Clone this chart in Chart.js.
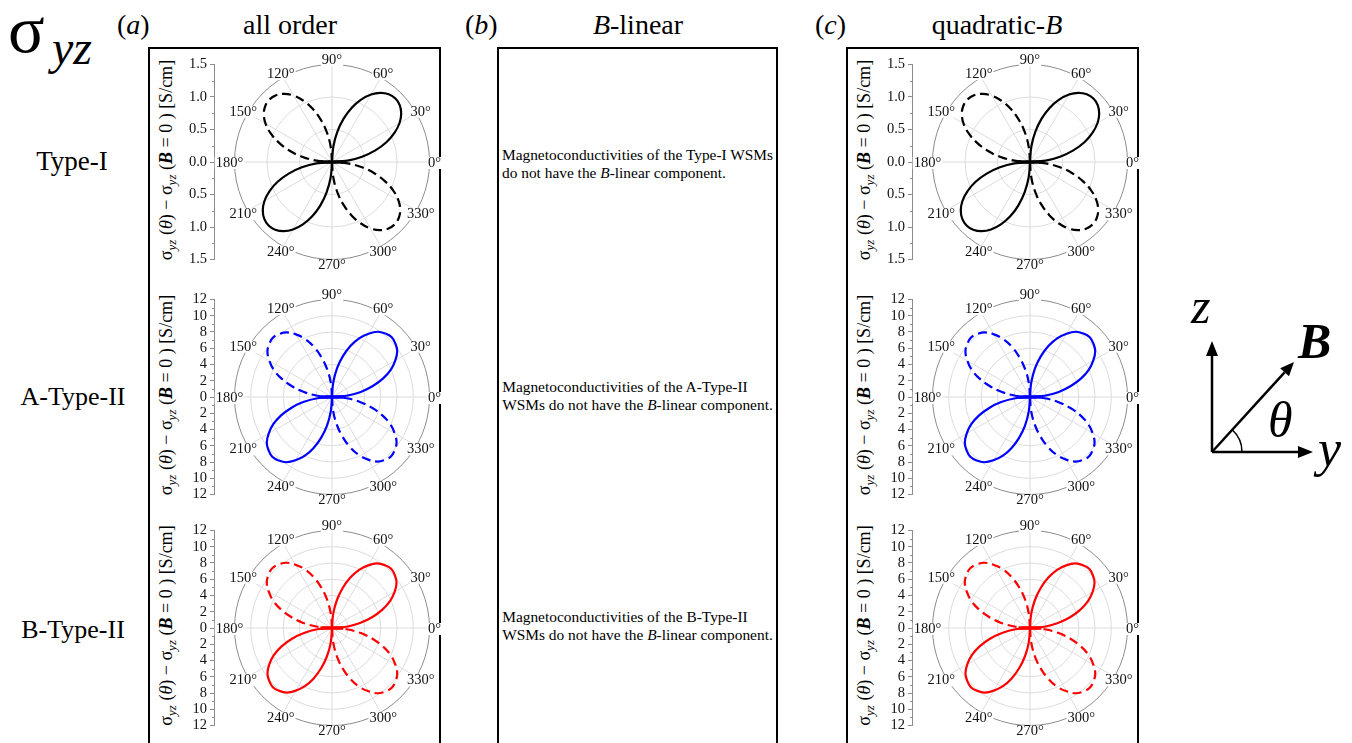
<!DOCTYPE html>
<html>
<head>
<meta charset="utf-8">
<script src="https://cdn.jsdelivr.net/npm/chart.js@4.4.0/dist/chart.umd.min.js"></script>
<style>
  body { margin: 0; background: #fff; }
  #page { position: relative; width: 1352px; height: 743px; overflow: hidden;
          font-family: "Liberation Serif", "Times New Roman", serif; color: #000; }
  #page > svg { position: absolute; left: 0; top: 0; }
  canvas { position: absolute; }
  .note { position: absolute; display: flex; justify-content: center; align-items: center;
          font-size: 15.4px; line-height: 18px; }
</style>
</head>
<body>
<div id="page">
  <svg id="deco" width="1352" height="743" font-family="Liberation Serif, Times New Roman, serif">
    <!-- panel frames -->
    <rect x="149" y="48" width="291" height="720" fill="none" stroke="#000" stroke-width="2"/>
    <rect x="498" y="48" width="279" height="720" fill="none" stroke="#000" stroke-width="2"/>
    <rect x="847" y="48" width="291" height="720" fill="none" stroke="#000" stroke-width="2"/>

    <!-- corner symbol -->
    <text x="8" y="52" font-size="68">σ</text>
    <text x="52" y="64" font-size="48" font-style="italic">yz</text>

    <!-- column headers -->
    <text x="117" y="34" font-size="28">(<tspan font-style="italic">a</tspan>)</text>
    <text x="290" y="34" font-size="28" text-anchor="middle">all order</text>
    <text x="465" y="34" font-size="28">(<tspan font-style="italic">b</tspan>)</text>
    <text x="638" y="34" font-size="28" text-anchor="middle"><tspan font-style="italic">B</tspan>-linear</text>
    <text x="815" y="34" font-size="28">(<tspan font-style="italic">c</tspan>)</text>
    <text x="997" y="34" font-size="28" text-anchor="middle">quadratic-<tspan font-style="italic">B</tspan></text>

    <!-- row labels -->
    <text x="72" y="170" font-size="27" text-anchor="middle">Type-I</text>
    <text x="73" y="405" font-size="26" text-anchor="middle">A-Type-II</text>
    <text x="73" y="638" font-size="26" text-anchor="middle">B-Type-II</text>

    <!-- axes sketch -->
    <g stroke="#000" stroke-width="2.5" fill="none">
      <line x1="1212" y1="452" x2="1212" y2="354"/>
      <line x1="1212" y1="452" x2="1299" y2="452"/>
      <line x1="1212" y1="452" x2="1284.6" y2="372.3"/>
      <path d="M 1242 452 A 30 30 0 0 0 1232.2 429.8" stroke-width="1.5"/>
    </g>
    <g fill="#000">
      <polygon points="1212,341 1206,356 1218,356"/>
      <polygon points="1313,452 1298,446 1298,458"/>
      <polygon points="1294,362 1289,376.3 1280.2,368.3"/>
    </g>
    <text x="1191" y="323" font-size="50" font-style="italic">z</text>
    <text x="1298" y="358" font-size="50" font-style="italic" font-weight="bold">B</text>
    <text x="1268" y="437" font-size="50" font-style="italic">θ</text>
    <text x="1318" y="466" font-size="52" font-style="italic">y</text>
    <g id="titles"></g>
  </svg>

  <div class="note" style="left:498px;top:146px;width:279px;height:36px">
    <div>Magnetoconductivities of the Type-I WSMs<br>do not have the <i>B</i>-linear component.</div>
  </div>
  <div class="note" style="left:498px;top:378px;width:279px;height:36px">
    <div>Magnetoconductivities of the A-Type-II<br>WSMs do not have the <i>B</i>-linear component.</div>
  </div>
  <div class="note" style="left:498px;top:608px;width:279px;height:36px">
    <div>Magnetoconductivities of the B-Type-II<br>WSMs do not have the <i>B</i>-linear component.</div>
  </div>
</div>

<script>
// ── DATA (one lobe per quadrant, every 5°) ─────────────────────────────
const THETA = [0, 5, 10, 15, 20, 25, 30, 35, 40, 45, 50, 55, 60, 65, 70, 75, 80, 85, 90];
const ANGLE_LABELS = [0, 30, 60, 90, 120, 150, 180, 210, 240, 270, 300, 330];

// Type-I, S/cm
const TYPE_I_POS = [0, 0.24, 0.47, 0.69, 0.89, 1.06, 1.20, 1.30, 1.36, 1.38, 1.36, 1.30, 1.20, 1.06, 0.89, 0.69, 0.47, 0.24, 0];
const TYPE_I_NEG = [0, 0.24, 0.47, 0.68, 0.87, 1.04, 1.18, 1.28, 1.34, 1.36, 1.34, 1.28, 1.18, 1.04, 0.87, 0.68, 0.47, 0.24, 0];
const TYPE_I_BAR = [-0.17, 0.17];
const TICKS_I    = [-1.5, -1.0, -0.5, 0, 0.5, 1.0, 1.5];

// A-Type-II, S/cm
const A_TYPE_POS = [0, 1.8, 3.6, 5.2, 6.7, 8.0, 9.0, 9.8, 10.2, 10.4, 10.2, 9.8, 9.0, 8.0, 6.7, 5.2, 3.6, 1.8, 0];
const A_TYPE_NEG = [0, 1.8, 3.5, 5.1, 6.6, 7.9, 8.9, 9.7, 10.1, 10.3, 10.1, 9.7, 8.9, 7.9, 6.6, 5.1, 3.5, 1.8, 0];
const A_TYPE_BAR = [-1.4, 1.4];

// B-Type-II, S/cm
const B_TYPE_POS = [0, 1.8, 3.5, 5.1, 6.6, 7.9, 8.9, 9.7, 10.1, 10.3, 10.1, 9.7, 8.9, 7.9, 6.6, 5.1, 3.5, 1.8, 0];
const B_TYPE_NEG = [0, 1.8, 3.6, 5.2, 6.7, 8.0, 9.0, 9.8, 10.2, 10.4, 10.2, 9.8, 9.0, 8.0, 6.7, 5.2, 3.6, 1.8, 0];
const B_TYPE_BAR = [-1.4, 1.4];
const TICKS_II   = [-12, -10, -8, -6, -4, -2, 0, 2, 4, 6, 8, 10, 12];

// ── LAYOUT ────────────────────────────────────────────────────────────
const R = 97.5;          // polar radius, px
const AXIS_OFF = 118;    // centre → left axis line, px
const AXIS_W = 63;       // width reserved for tick labels
const CANVAS_W = 300, CANVAS_H = 240;
const FONT = '"Liberation Serif", "Times New Roman", serif';

const ROWS = [
  { cy: 162,   pos: TYPE_I_POS, neg: TYPE_I_NEG, bar: TYPE_I_BAR, ticks: TICKS_I,  dec: 1, color: '#000000' },
  { cy: 397,   pos: A_TYPE_POS, neg: A_TYPE_NEG, bar: A_TYPE_BAR, ticks: TICKS_II, dec: 0, color: '#0000ff' },
  { cy: 627.5, pos: B_TYPE_POS, neg: B_TYPE_NEG, bar: B_TYPE_BAR, ticks: TICKS_II, dec: 0, color: '#ff0000' },
];
const COLS = [332, 1030];   // (a) all order, (c) quadratic-B

// ── HELPERS ───────────────────────────────────────────────────────────
function lobe(vals, offset) {
  return THETA.map((t, i) => {
    const a = (t + offset) * Math.PI / 180;
    return { x: vals[i] * Math.cos(a), y: vals[i] * Math.sin(a) };
  });
}

// polar rings, spokes, angle labels and minor axis ticks
const polarGrid = {
  id: 'polarGrid',
  beforeDatasetsDraw(chart, args, opts) {
    const { ctx, scales: { x, y } } = chart;
    const cx = x.getPixelForValue(0), cy = y.getPixelForValue(0);
    const rad = cy - y.getPixelForValue(y.max);
    ctx.save();
    ctx.lineWidth = 1;
    ctx.strokeStyle = '#dcdcdc';
    opts.ticks.filter(v => v > 0 && v < y.max).forEach(v => {
      const r = cy - y.getPixelForValue(v);
      ctx.beginPath(); ctx.arc(cx, cy, r, 0, Math.PI * 2); ctx.stroke();
    });
    ANGLE_LABELS.forEach(a => {
      const t = a * Math.PI / 180;
      ctx.beginPath();
      ctx.moveTo(cx, cy);
      ctx.lineTo(cx + rad * Math.cos(t), cy - rad * Math.sin(t));
      ctx.stroke();
    });
    ctx.strokeStyle = '#8c8c8c';
    ctx.beginPath(); ctx.arc(cx, cy, rad, 0, Math.PI * 2); ctx.stroke();
    ctx.restore();
  },
  afterDatasetsDraw(chart, args, opts) {
    const { ctx, scales: { x, y }, chartArea } = chart;
    const cx = x.getPixelForValue(0), cy = y.getPixelForValue(0);
    const rad = cy - y.getPixelForValue(y.max);
    ctx.save();
    ctx.font = '14.5px ' + FONT;
    ctx.textAlign = 'center';
    ctx.textBaseline = 'middle';
    ANGLE_LABELS.forEach(a => {
      const t = a * Math.PI / 180;
      const lx = cx + (rad + 5) * Math.cos(t);
      const ly = cy - (rad + 5) * Math.sin(t) + 1;
      const txt = a + '°';
      const w = ctx.measureText(txt).width;
      ctx.fillStyle = '#fff';
      ctx.fillRect(lx - w / 2 - 1, ly - 6, w + 2, 12);
      ctx.fillStyle = '#111';
      ctx.fillText(txt, lx, ly);
    });
    // minor ticks halfway between labelled ones
    ctx.strokeStyle = '#8c8c8c';
    ctx.lineWidth = 1;
    const tk = opts.ticks;
    for (let i = 0; i < tk.length - 1; i++) {
      const py = Math.round(y.getPixelForValue((tk[i] + tk[i + 1]) / 2)) + 0.5;
      ctx.beginPath();
      ctx.moveTo(chartArea.left - 2, py);
      ctx.lineTo(chartArea.left, py);
      ctx.stroke();
    }
    ctx.restore();
  }
};

function axisTitle(cx, cy) {
  const g = document.getElementById('titles');
  const ns = 'http://www.w3.org/2000/svg';
  const t = document.createElementNS(ns, 'text');
  t.setAttribute('transform', `translate(${cx - 160},${cy - 2}) rotate(-90)`);
  t.setAttribute('text-anchor', 'middle');
  t.setAttribute('font-size', '18');
  t.innerHTML =
    'σ<tspan font-size="13" font-style="italic" dy="4">yz</tspan>' +
    '<tspan dy="-4"> (</tspan><tspan font-style="italic">θ</tspan>) − σ' +
    '<tspan font-size="13" font-style="italic" dy="4">yz</tspan>' +
    '<tspan dy="-4"> (</tspan><tspan font-style="italic" font-weight="bold">B</tspan> = 0 ) [S/cm]';
  g.appendChild(t);
}

// ── BUILD PANELS ──────────────────────────────────────────────────────
function buildPanel(cx, row) {
  const M = row.ticks[row.ticks.length - 1];
  const canvas = document.createElement('canvas');
  canvas.width = CANVAS_W;
  canvas.height = CANVAS_H;
  canvas.style.left = (cx - AXIS_OFF - AXIS_W) + 'px';
  canvas.style.top = (row.cy - CANVAS_H / 2) + 'px';
  document.getElementById('page').appendChild(canvas);

  const solid = { borderColor: row.color, borderWidth: 2.2, pointRadius: 0, showLine: true, tension: 0.4, fill: false };
  const dashed = { ...solid, borderDash: [9, 5] };
  const vPad = CANVAS_H / 2 - R;

  new Chart(canvas, {
    type: 'scatter',
    data: {
      datasets: [
        { ...solid,  data: lobe(row.pos, 0) },
        { ...solid,  data: lobe(row.pos, 180) },
        { ...dashed, data: lobe(row.neg, 90) },
        { ...dashed, data: lobe(row.neg, 270) },
        { ...solid,  borderWidth: 3.5, tension: 0, data: row.bar.map(v => ({ x: v, y: 0 })) },
      ]
    },
    options: {
      responsive: false,
      animation: false,
      events: [],
      layout: { padding: { left: 0, top: vPad, bottom: vPad, right: CANVAS_W - AXIS_W - AXIS_OFF - R } },
      plugins: {
        legend: { display: false },
        tooltip: { enabled: false },
        polarGrid: { ticks: row.ticks }
      },
      scales: {
        x: { type: 'linear', display: false, min: -M * AXIS_OFF / R, max: M },
        y: {
          type: 'linear', position: 'left', min: -M, max: M,
          afterBuildTicks: s => { s.ticks = row.ticks.map(v => ({ value: v })); },
          afterFit: s => { s.width = AXIS_W; },
          ticks: {
            autoSkip: false,
            padding: 3,
            color: '#111',
            font: { family: FONT, size: 14.5 },
            callback: v => Math.abs(v).toFixed(row.dec)
          },
          grid: { drawOnChartArea: false, drawTicks: true, tickLength: 4, color: '#8c8c8c' },
          border: { display: true, color: '#8c8c8c' }
        }
      }
    },
    plugins: [polarGrid]
  });
  axisTitle(cx, row.cy);
}

COLS.forEach(cx => ROWS.forEach(row => buildPanel(cx, row)));
</script>
</body>
</html>
